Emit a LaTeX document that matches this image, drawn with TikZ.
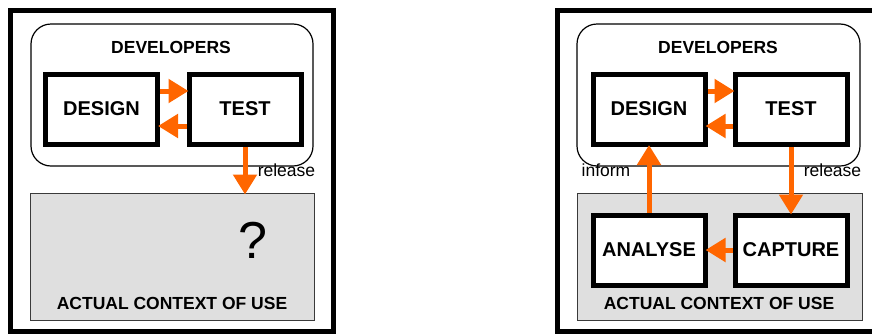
\documentclass[tikz,border=0pt]{standalone}
\usepackage{fontspec}
\setmainfont{Liberation Sans}
\definecolor{Flame}{HTML}{FF6600}
\definecolor{Grey15}{HTML}{DFDFDF}
\definecolor{Grey70}{HTML}{3A3A3A}
\usetikzlibrary{arrows.meta}

\tikzset{
    frame/.style={draw=black,line width=5pt},
    groupbox/.style={draw=black,line width=1.2pt,rounded corners=20pt,
        minimum width=282pt,minimum height=142pt},
    contextbox/.style={draw=Grey70,fill=Grey15,line width=1pt,
        minimum width=284pt,minimum height=127pt},
    stagebox/.style={draw=black,fill=white,line width=5pt,
        minimum width=112pt,minimum height=70pt,text depth=1pt,
        font=\fontsize{20}{24}\selectfont\bfseries},
    title/.style={font=\fontsize{17.5}{21}\selectfont\bfseries},
    tag/.style={font=\fontsize{17.5}{21}\selectfont},
    flow/.style={draw=Flame,line width=5pt,shorten >=-2pt,
        -{Triangle[width=23pt,length=20pt]}}
}

\begin{document}
\begin{tikzpicture}[x=1pt,y=-1pt]
    \useasboundingbox (0,0) rectangle (872,335);

    % Left: release without feedback
    \draw[frame] (10.5,10.5) rectangle (333,331.5);
    \node[groupbox] (dev1) at (172,95) {};
    \node[title] (devlab1) at (171,47) {DEVELOPERS};
    \node[contextbox] (ctx1) at (172,256.5) {};
    \node[title] (ctxlab1) at (172,303) {ACTUAL CONTEXT OF USE};
    \node[font=\fontsize{52}{60}\selectfont] (unknown) at (253,240) {?};
    \node[stagebox] (design1) at (101.5,109.5) {DESIGN};
    \node[stagebox] (test1) at (245,109.5) {TEST};
    \node[tag] (rel1) at (286.5,170) {release};

    \draw[flow] ([yshift=18.5pt]design1.east) -- ([yshift=18.5pt]test1.west);
    \draw[flow] ([yshift=-16.5pt]test1.west) -- ([yshift=-16.5pt]design1.east);
    \draw[flow] (test1.south) -- (test1.south |- ctx1.north);

    % Right: release with capture and analysis
    \draw[frame] (557.5,10.5) rectangle (876,331.5);
    \node[groupbox,minimum width=283pt] (dev2) at (718.5,95) {};
    \node[title] (devlab2) at (718,47) {DEVELOPERS};
    \node[contextbox,minimum width=285pt] (ctx2) at (719.5,256.5) {};
    \node[title] (ctxlab2) at (719,303) {ACTUAL CONTEXT OF USE};
    \node[stagebox] (design2) at (649,109.5) {DESIGN};
    \node[stagebox] (test2) at (791,109.5) {TEST};
    \node[stagebox] (analyse) at (649,250) {ANALYSE};
    \node[stagebox] (capture) at (791,250) {CAPTURE};
    \node[tag] (rel2) at (832.5,170) {release};
    \node[tag] (inform) at (606,170) {inform};

    \draw[flow] ([yshift=18.5pt]design2.east) -- ([yshift=18.5pt]test2.west);
    \draw[flow] ([yshift=-16.5pt]test2.west) -- ([yshift=-16.5pt]design2.east);
    \draw[flow] (test2.south) -- (capture.north);
    \draw[flow] (capture.west) -- (analyse.east);
    \draw[flow] (analyse.north) -- (design2.south);
\end{tikzpicture}
\end{document}
